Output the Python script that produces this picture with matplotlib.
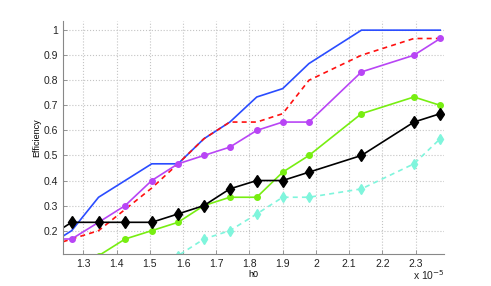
import numpy as np
import matplotlib
matplotlib.use("Agg")
import matplotlib.pyplot as plt
from matplotlib.ticker import FormatStrFormatter

plt.rcParams['font.family'] = ['Liberation Sans', 'DejaVu Sans']

# h0 sample points (units of 1e-5)
h0 = [1.186, 1.265, 1.346, 1.426, 1.506, 1.585, 1.663, 1.741, 1.822, 1.900, 1.979, 2.137, 2.295, 2.374]

eff_blue    = [0.1333, 0.2000, 0.3333, 0.4000, 0.4667, 0.4667, 0.5667, 0.6333, 0.7333, 0.7667, 0.8667, 1.0000, 1.0000, 1.0000]
eff_red     = [0.1333, 0.1667, 0.2000, 0.2850, 0.3700, 0.4667, 0.5667, 0.6333, 0.6333, 0.6667, 0.8000, 0.9000, 0.9667, 0.9667]
eff_magenta = [0.1667, 0.1667, 0.2333, 0.3000, 0.4000, 0.4667, 0.5000, 0.5333, 0.6000, 0.6333, 0.6333, 0.8333, 0.9000, 0.9667]
eff_green   = [0.0333, 0.0667, 0.1000, 0.1667, 0.2000, 0.2333, 0.3000, 0.3333, 0.3333, 0.4333, 0.5000, 0.6667, 0.7333, 0.7000]
eff_black   = [0.1667, 0.2333, 0.2333, 0.2333, 0.2333, 0.2667, 0.3000, 0.3667, 0.4000, 0.4000, 0.4333, 0.5000, 0.6333, 0.6667]
eff_cyan    = [0.0333, 0.0333, 0.0667, 0.0667, 0.0667, 0.1000, 0.1667, 0.2000, 0.2667, 0.3333, 0.3333, 0.3667, 0.4667, 0.5667]

fig = plt.figure(figsize=(4.91, 2.86), dpi=100)
ax = fig.add_axes([0.129, 0.112, 0.775, 0.815])

ax.plot(h0, eff_blue, color='#2a4cff', lw=1.2)
ax.plot(h0, eff_red, color='#ff1010', lw=1.2, ls=(0, (3, 2.5)))
ax.plot(h0, eff_magenta, color='#b845f5', lw=1.2, marker='o', ms=4)
ax.plot(h0, eff_green, color='#77ee11', lw=1.2, marker='o', ms=4)
ax.plot(h0, eff_cyan, color='#7ff5dc', lw=1.2, ls=(0, (3, 2.5)), marker='d', ms=5.5)
ax.plot(h0, eff_black, color='black', lw=1.2, marker='d', ms=6.2)

ax.set_xlim(1.24, 2.385)
ax.set_ylim(0.107, 1.037)
ax.set_xticks(np.arange(1.3, 2.31, 0.1))
ax.set_yticks(np.arange(0.2, 1.01, 0.1))
ax.xaxis.set_major_formatter(FormatStrFormatter('%g'))
ax.yaxis.set_major_formatter(FormatStrFormatter('%g'))
ax.tick_params(direction='in', length=3, labelsize=7.5, labelcolor='#222222', width=0.6, color='#888888')
ax.grid(True, ls=':', color='#c4c4c4', lw=0.8)

for s in ['top', 'right']:
    ax.spines[s].set_visible(False)
for s in ['left', 'bottom']:
    ax.spines[s].set_color('#888888')
    ax.spines[s].set_linewidth(0.8)

ax.set_xlabel('h0', fontsize=6.5, labelpad=1)
ax.set_ylabel('Efficiency', fontsize=6.5, labelpad=2)
fig.text(0.905, 0.015, 'x 10$^{-5}$', ha='right', va='bottom', fontsize=7.5, color='#222222')

fig.savefig('out.png', dpi=100)
